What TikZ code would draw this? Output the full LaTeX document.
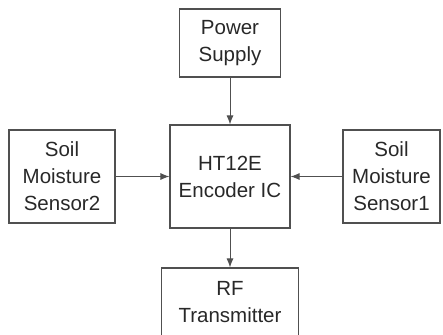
\documentclass[tikz,border=0pt]{standalone}
\usepackage{fontspec}
\setmainfont{Liberation Sans}
\usetikzlibrary{shapes, arrows.meta}
\definecolor{boxgray}{HTML}{505050}
\definecolor{txtgray}{HTML}{282828}
\tikzstyle{block} = [rectangle, draw=boxgray, line width=1.1pt, text=txtgray,
    align=center, inner sep=0pt,
    font=\fontsize{20.5}{27}\selectfont]
\tikzstyle{line} = [draw=boxgray, line width=1pt, -{Latex[length=9pt,width=7pt]}]

\begin{document}
\begin{tikzpicture}[node distance = 2cm, auto]
        \useasboundingbox (-230pt,-157.5pt) rectangle (213pt,176.5pt);
        % Place nodes
        \node [block, minimum width=120pt, minimum height=103pt] (encoder) {HT12E\\Encoder IC};
        \node [block, above of=encoder, node distance=133.5pt, minimum width=101pt, minimum height=68pt] (power) {Power\\Supply};
        \node [block, left of=encoder, node distance=168pt, minimum width=106pt, minimum height=93pt] (sensor2) {Soil\\Moisture\\Sensor2};
        \node [block, right of=encoder, node distance=161.5pt, minimum width=97pt, minimum height=93pt] (sensor1) {Soil\\Moisture\\Sensor1};
        \node [block, below of=encoder, node distance=125.5pt, minimum width=137pt, minimum height=68pt] (rf) {RF\\Transmitter};
        % Draw edges
        \path [line] (power) -- (encoder);
        \path [line] (sensor2) -- (encoder);
        \path [line] (sensor1) -- (encoder);
        \path [line] (encoder) -- (rf);
    \end{tikzpicture}
\end{document}
